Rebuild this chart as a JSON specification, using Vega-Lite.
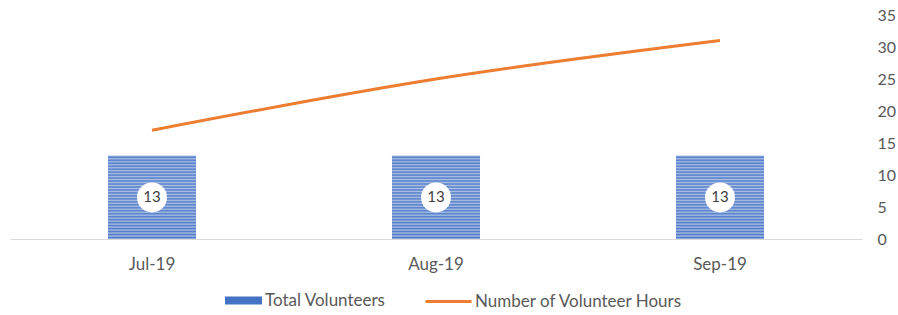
{
  "$schema": "https://vega.github.io/schema/vega-lite/v6.json",
  "width": 852,
  "height": 224,
  "autosize": "none",
  "padding": {"left": 10, "top": 15, "right": 36, "bottom": 76},
  "config": {"view": {"stroke": null}, "font": "Lato"},
  "data": {"values": [
    {"month": "Jul-19", "volunteers": 13, "hours": 17},
    {"month": "Aug-19", "volunteers": 13, "hours": 25},
    {"month": "Sep-19", "volunteers": 13, "hours": 31}
  ]},
  "transform": [{"calculate": "datum.volunteers / 2", "as": "mid"}],
  "encoding": {
    "x": {"field": "month", "type": "nominal", "sort": null,
      "scale": {"paddingInner": 0.69, "paddingOuter": 0.345},
      "axis": {"title": null, "labelAngle": 0, "ticks": false, "tickSize": 0, "domainColor": "#d9d9d9", "domainWidth": 1.2, "labelColor": "#595959", "labelFontSize": 17, "labelPadding": 17}}
  },
  "layer": [
    {
      "mark": {"type": "bar"},
      "encoding": {
        "y": {"field": "volunteers", "type": "quantitative", "scale": {"domain": [0, 35]},
          "axis": {"orient": "right", "title": null, "grid": false, "domain": false, "ticks": false, "tickSize": 0, "values": [0,5,10,15,20,25,30,35], "labelOverlap": false, "labelColor": "#595959", "labelFontSize": 16, "labelPadding": 15}},
        "color": {"datum": "Total Volunteers", "scale": {"range": ["#4472c4"]},
          "legend": {"title": null, "orient": "none", "legendX": 215, "legendY": 267, "symbolType": "M-1,-0.22H1V0.22H-1Z", "symbolSize": 1369, "symbolStrokeWidth": 0, "labelFontSize": 17, "labelColor": "#595959", "labelOffset": 3, "labelLimit": 400, "symbolOpacity": 1}}
      }
    },
    {
      "mark": {"type": "bar", "fill": {"gradient": "linear", "x1": 0, "y1": 0, "x2": 0, "y2": 1, "stops": [
        {"offset": 0, "color": "rgba(255,255,255,0.55)"},
        {"offset": 0.0179, "color": "rgba(255,255,255,0.05)"},
        {"offset": 0.0357, "color": "rgba(255,255,255,0.55)"},
        {"offset": 0.0536, "color": "rgba(255,255,255,0.05)"},
        {"offset": 0.0714, "color": "rgba(255,255,255,0.55)"},
        {"offset": 0.0893, "color": "rgba(255,255,255,0.05)"},
        {"offset": 0.1071, "color": "rgba(255,255,255,0.55)"},
        {"offset": 0.125, "color": "rgba(255,255,255,0.05)"},
        {"offset": 0.1429, "color": "rgba(255,255,255,0.55)"},
        {"offset": 0.1607, "color": "rgba(255,255,255,0.05)"},
        {"offset": 0.1786, "color": "rgba(255,255,255,0.55)"},
        {"offset": 0.1964, "color": "rgba(255,255,255,0.05)"},
        {"offset": 0.2143, "color": "rgba(255,255,255,0.55)"},
        {"offset": 0.2321, "color": "rgba(255,255,255,0.05)"},
        {"offset": 0.25, "color": "rgba(255,255,255,0.55)"},
        {"offset": 0.2679, "color": "rgba(255,255,255,0.05)"},
        {"offset": 0.2857, "color": "rgba(255,255,255,0.55)"},
        {"offset": 0.3036, "color": "rgba(255,255,255,0.05)"},
        {"offset": 0.3214, "color": "rgba(255,255,255,0.55)"},
        {"offset": 0.3393, "color": "rgba(255,255,255,0.05)"},
        {"offset": 0.3571, "color": "rgba(255,255,255,0.55)"},
        {"offset": 0.375, "color": "rgba(255,255,255,0.05)"},
        {"offset": 0.3929, "color": "rgba(255,255,255,0.55)"},
        {"offset": 0.4107, "color": "rgba(255,255,255,0.05)"},
        {"offset": 0.4286, "color": "rgba(255,255,255,0.55)"},
        {"offset": 0.4464, "color": "rgba(255,255,255,0.05)"},
        {"offset": 0.4643, "color": "rgba(255,255,255,0.55)"},
        {"offset": 0.4821, "color": "rgba(255,255,255,0.05)"},
        {"offset": 0.5, "color": "rgba(255,255,255,0.55)"},
        {"offset": 0.5179, "color": "rgba(255,255,255,0.05)"},
        {"offset": 0.5357, "color": "rgba(255,255,255,0.55)"},
        {"offset": 0.5536, "color": "rgba(255,255,255,0.05)"},
        {"offset": 0.5714, "color": "rgba(255,255,255,0.55)"},
        {"offset": 0.5893, "color": "rgba(255,255,255,0.05)"},
        {"offset": 0.6071, "color": "rgba(255,255,255,0.55)"},
        {"offset": 0.625, "color": "rgba(255,255,255,0.05)"},
        {"offset": 0.6429, "color": "rgba(255,255,255,0.55)"},
        {"offset": 0.6607, "color": "rgba(255,255,255,0.05)"},
        {"offset": 0.6786, "color": "rgba(255,255,255,0.55)"},
        {"offset": 0.6964, "color": "rgba(255,255,255,0.05)"},
        {"offset": 0.7143, "color": "rgba(255,255,255,0.55)"},
        {"offset": 0.7321, "color": "rgba(255,255,255,0.05)"},
        {"offset": 0.75, "color": "rgba(255,255,255,0.55)"},
        {"offset": 0.7679, "color": "rgba(255,255,255,0.05)"},
        {"offset": 0.7857, "color": "rgba(255,255,255,0.55)"},
        {"offset": 0.8036, "color": "rgba(255,255,255,0.05)"},
        {"offset": 0.8214, "color": "rgba(255,255,255,0.55)"},
        {"offset": 0.8393, "color": "rgba(255,255,255,0.05)"},
        {"offset": 0.8571, "color": "rgba(255,255,255,0.55)"},
        {"offset": 0.875, "color": "rgba(255,255,255,0.05)"},
        {"offset": 0.8929, "color": "rgba(255,255,255,0.55)"},
        {"offset": 0.9107, "color": "rgba(255,255,255,0.05)"},
        {"offset": 0.9286, "color": "rgba(255,255,255,0.55)"},
        {"offset": 0.9464, "color": "rgba(255,255,255,0.05)"},
        {"offset": 0.9643, "color": "rgba(255,255,255,0.55)"},
        {"offset": 0.9821, "color": "rgba(255,255,255,0.05)"},
        {"offset": 1, "color": "rgba(255,255,255,0.55)"}
      ]}},
      "encoding": {
        "y": {"field": "volunteers", "type": "quantitative",
          "axis": {"orient": "right", "title": null, "grid": false, "domain": false, "ticks": false, "tickSize": 0, "values": [0,5,10,15,20,25,30,35], "labelOverlap": false, "labelColor": "#595959", "labelFontSize": 16, "labelPadding": 15}}
      }
    },
    {
      "mark": {"type": "line", "strokeWidth": 3, "interpolate": "monotone"},
      "encoding": {
        "x": {"field": "month", "type": "nominal", "sort": null, "bandPosition": 0.5},
        "y": {"field": "hours", "type": "quantitative",
          "axis": {"orient": "right", "title": null, "grid": false, "domain": false, "ticks": false, "tickSize": 0, "values": [0,5,10,15,20,25,30,35], "labelOverlap": false, "labelColor": "#595959", "labelFontSize": 16, "labelPadding": 15}},
        "stroke": {"datum": "Number of Volunteer Hours", "scale": {"range": ["#ed7d31"]},
          "legend": {"title": null, "orient": "none", "legendX": 414, "legendY": 262, "symbolType": "stroke", "symbolSize": 2116, "symbolStrokeWidth": 3, "labelFontSize": 17, "labelColor": "#595959", "labelOffset": 2, "labelLimit": 400}}
      }
    },
    {
      "mark": {"type": "point", "shape": "circle", "filled": true, "color": "white", "opacity": 1, "size": 900},
      "encoding": {
        "x": {"field": "month", "type": "nominal", "sort": null, "bandPosition": 0.5},
        "y": {"field": "mid", "type": "quantitative",
          "axis": {"orient": "right", "title": null, "grid": false, "domain": false, "ticks": false, "tickSize": 0, "values": [0,5,10,15,20,25,30,35], "labelOverlap": false, "labelColor": "#595959", "labelFontSize": 16, "labelPadding": 15}}
      }
    },
    {
      "mark": {"type": "text", "fontSize": 15, "color": "#404040"},
      "encoding": {
        "x": {"field": "month", "type": "nominal", "sort": null, "bandPosition": 0.5},
        "y": {"field": "mid", "type": "quantitative",
          "axis": {"orient": "right", "title": null, "grid": false, "domain": false, "ticks": false, "tickSize": 0, "values": [0,5,10,15,20,25,30,35], "labelOverlap": false, "labelColor": "#595959", "labelFontSize": 16, "labelPadding": 15}},
        "text": {"field": "volunteers", "type": "quantitative"}
      }
    }
  ]
}
